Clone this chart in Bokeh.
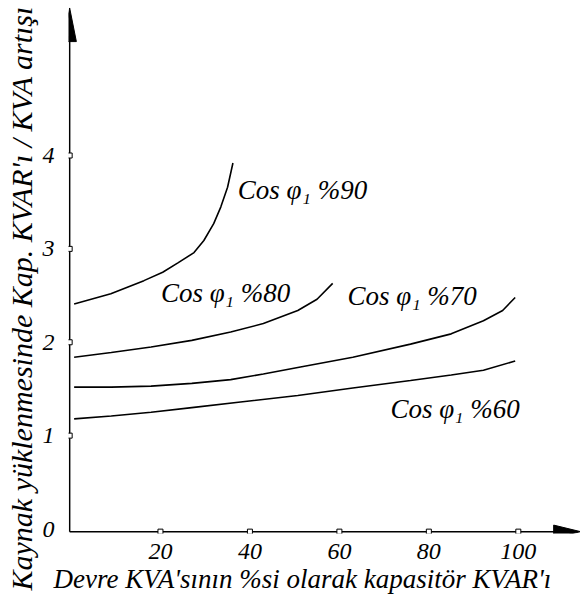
from bokeh.plotting import figure
from bokeh.models import Range1d, FixedTicker, Title
from bokeh.core.properties import value
from bokeh.embed import file_html
from bokeh.resources import INLINE

# ---- data ----
x_ticks = [20, 40, 60, 80, 100]
y_ticks = [0, 1, 2, 3, 4]

x90 = [0.7, 8.9, 16.3, 20.5, 23.9, 27.5, 29.7, 31.9, 33.5, 35.0, 36.2]
y90 = [2.41, 2.52, 2.66, 2.75, 2.85, 2.96, 3.09, 3.27, 3.45, 3.66, 3.92]

x80 = [0.7, 9.0, 17.9, 27.0, 35.7, 43.0, 50.7, 55.0, 58.5]
y80 = [1.84, 1.89, 1.95, 2.02, 2.11, 2.20, 2.34, 2.46, 2.63]

x70 = [0.7, 9.0, 17.9, 27.0, 35.7, 43.0, 50.7, 63.0, 75.9, 85.0, 92.2, 96.5, 99.3]
y70 = [1.52, 1.52, 1.53, 1.56, 1.60, 1.66, 1.73, 1.84, 1.98, 2.09, 2.23, 2.34, 2.48]

x60 = [0.7, 9.0, 17.9, 27.0, 37.9, 50.7, 63.0, 75.9, 85.0, 92.2, 99.3]
y60 = [1.18, 1.21, 1.25, 1.30, 1.36, 1.43, 1.51, 1.59, 1.65, 1.70, 1.80]

label_text = ["Cos φ₁ %90", "Cos φ₁ %80", "Cos φ₁ %70", "Cos φ₁ %60"]
label_x = [37.3, 20.1, 61.8, 71.4]
label_y = [3.63, 2.53, 2.50, 1.29]

x_title = "Devre KVA'sının %si olarak kapasitör KVAR'ı"
y_title = "Kaynak yüklenmesinde Kap. KVAR'ı / KVA artışı"

FONT = "Liberation Serif"

x0, x1 = -0.56, 113.9
y0, y1 = -0.048, 5.66
W, H = 580, 600

p = figure(width=W, height=H, output_backend="svg", toolbar_location=None,
           x_range=Range1d(x0, x1), y_range=Range1d(y0, y1),
           min_border_left=68, min_border_bottom=67, min_border_top=0, min_border_right=0)
p.outline_line_color = None
p.grid.grid_line_color = None
p.background_fill_color = "white"

for ax in (p.xaxis[0], p.yaxis[0]):
    ax.axis_line_color = None
    ax.major_tick_line_color = None
    ax.minor_tick_line_color = None
    ax.major_label_text_font = FONT
    ax.major_label_text_font_style = "italic"
    ax.major_label_text_font_size = "24px"
    ax.major_label_text_color = "black"

p.xaxis.ticker = FixedTicker(ticks=x_ticks)
p.yaxis.ticker = FixedTicker(ticks=y_ticks)
p.xaxis.major_label_standoff = 4
p.yaxis.major_label_standoff = 8

# axis titles as side-panel titles (left-aligned so they can be shifted along the axis)
p.add_layout(Title(text=x_title, align="left", offset=-15, standoff=0,
                   text_font=FONT, text_font_style="italic", text_font_size="27px",
                   text_color="black"), "below")
p.add_layout(Title(text=y_title, align="left", offset=-57, standoff=4,
                   text_font=FONT, text_font_style="italic", text_font_size="30px",
                   text_color="black"), "left")

# axis lines with arrowheads (arrow tip of y axis a little below the frame top)
ax_x = -0.3
ax_y = y0 + 0.02
tip_y = 5.58
p.segment(x0=[ax_x], y0=[ax_y], x1=[ax_x], y1=[tip_y - 0.3], line_color="black", line_width=1.5)
p.segment(x0=[ax_x], y0=[ax_y], x1=[x1 - 5], y1=[ax_y], line_color="black", line_width=1.5)
p.patch([ax_x - 1.5, ax_x, ax_x + 1.5], [tip_y - 0.36, tip_y, tip_y - 0.36], color="black")
p.patch([x1 - 6.0, x1, x1 - 6.0], [ax_y - 0.07, ax_y, ax_y + 0.07], color="black")

# tick squares on the axes
p.scatter(x=x_ticks, y=[ax_y] * len(x_ticks), marker="square", size=5,
          fill_color="white", line_color="black", line_width=1)
p.scatter(x=[ax_x] * 4, y=y_ticks[1:], marker="square", size=5,
          fill_color="white", line_color="black", line_width=1)

for xs, ys in ((x90, y90), (x80, y80), (x70, y70), (x60, y60)):
    p.line(xs, ys, line_color="black", line_width=1.6)

p.text(x=label_x, y=label_y, text=label_text, text_font=value(FONT),
       text_font_style="italic", text_font_size="27px", text_color="black",
       text_align="left", text_baseline="middle")

open("out.html", "w").write(file_html(p, INLINE))
